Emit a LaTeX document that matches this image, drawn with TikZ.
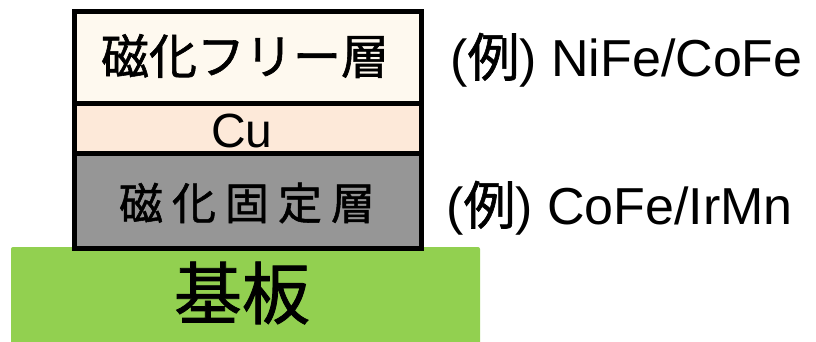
\documentclass[tikz,border=0pt]{standalone}
\usepackage{fontspec}
\setmainfont{Liberation Sans}
\newfontfamily\cjk[FakeBold=1.2]{Noto Sans CJK JP}
\newfontfamily\cjkl{Noto Sans CJK JP}
\definecolor{creamc}{HTML}{FEF9EF}
\definecolor{cuc}{HTML}{FDE9D9}
\definecolor{grayc}{HTML}{969696}
\definecolor{greenc}{HTML}{92D050}
\begin{document}
\begin{tikzpicture}[x=1pt,y=-1pt,
  layer/.style={draw=black,line width=5pt},
  lbl/.style={inner sep=0pt,anchor=west,font=\fontsize{52}{54}\selectfont}]
\useasboundingbox (0,0) rectangle (816,342);
% substrate
\fill[greenc,rounded corners=2pt] (11,247) rectangle (480,350);
\node[inner sep=0pt,font=\cjk\fontsize{68}{70}\selectfont] (sub) at (242,293) {基板};
% layers
\fill[creamc] (74.5,11.5) rectangle (421.5,104);
\fill[cuc] (74.5,104) rectangle (421.5,153.5);
\fill[grayc] (74.5,153.5) rectangle (421.5,248);
\draw[layer] (74.5,11.5) rectangle (421.5,248);
\draw[layer] (74.5,104) -- (421.5,104);
\draw[layer] (74.5,153.5) -- (421.5,153.5);
\node[inner sep=0pt,font=\cjk\fontsize{48}{50}\selectfont] (free) at (245,56) {磁化フリー層};
\node[inner sep=0pt,font=\fontsize{48}{50}\selectfont] (cu) at (242,131) {Cu};
\node[inner sep=0pt,font=\cjk\fontsize{44}{46}\selectfont] (fixed) at (247,203) {磁\hspace{9pt}化\hspace{9pt}固\hspace{9pt}定\hspace{9pt}層};
% labels
\node[lbl] (ex1) at (450,60) {({\cjk 例}) NiFe/CoFe};
\node[lbl] (ex2) at (446,208) {({\cjk 例}) CoFe/IrMn};
\end{tikzpicture}
\end{document}
